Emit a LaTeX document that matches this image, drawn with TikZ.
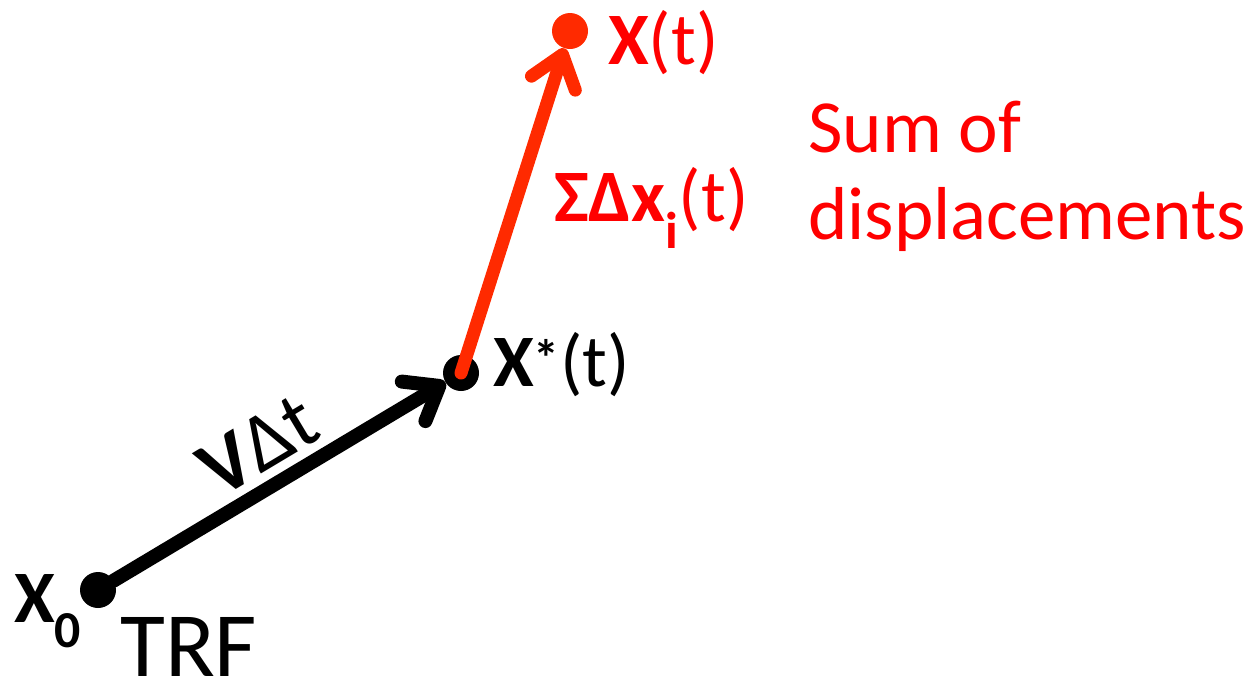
\documentclass[tikz,border=0pt]{standalone}
\usepackage{fontspec}
\setmainfont{Carlito}
\usetikzlibrary{arrows.meta}
\definecolor{redline}{HTML}{FF2A00}
\definecolor{redtext}{HTML}{FF0000}
\tikzset{
  dot/.style={circle,inner sep=0pt,minimum size=36pt,fill=#1},
  lbl/.style={inner sep=0pt,anchor=base west,font=\fontsize{74}{88}\selectfont},
  barb/.style={-{Straight Barb[length=30pt,width=46pt,line cap=round,line join=round]}},
}
\begin{document}
\begin{tikzpicture}[x=1pt,y=-1pt]
\useasboundingbox (0,0) rectangle (1250,681);
% dots
\node[dot=black] (x0) at (98,590) {};
\node[dot=black] (xs) at (461,373) {};
\node[dot=redline] (xt) at (570,31) {};
% connectors
\draw[barb,line width=14pt,line cap=round,black] (x0) -- (xs)
  node[pos=0.5,sloped,above=8pt,inner sep=0pt,font=\fontsize{82}{96}\selectfont] (vdt) {\textbf{V}Δt};
\draw[barb,line width=13pt,line cap=round,redline] (xs.center) -- (xt);
% labels
\node[lbl] (lx0) at (14,622) {\textbf{X}\textsubscript{\textbf{0}}};
\node[lbl,font=\fontsize{92}{110}\selectfont] (trf) at (120,676) {TRF};
\node[lbl] (lxs) at (493,386) {\textbf{X}\textsuperscript{\textbf{*}}(t)};
\node[lbl,text=redtext] (lxt) at (608,64) {\textbf{X}(t)};
\node[lbl,text=redtext] (lsum) at (554,221) {\textbf{ΣΔx}\textsubscript{\textbf{i}}(t)};
\node[inner sep=0pt,anchor=north west,align=left,text=redtext,font=\fontsize{75}{87}\selectfont] (sumdisp) at (808,101) {Sum of\\displacements};
\end{tikzpicture}
\end{document}
